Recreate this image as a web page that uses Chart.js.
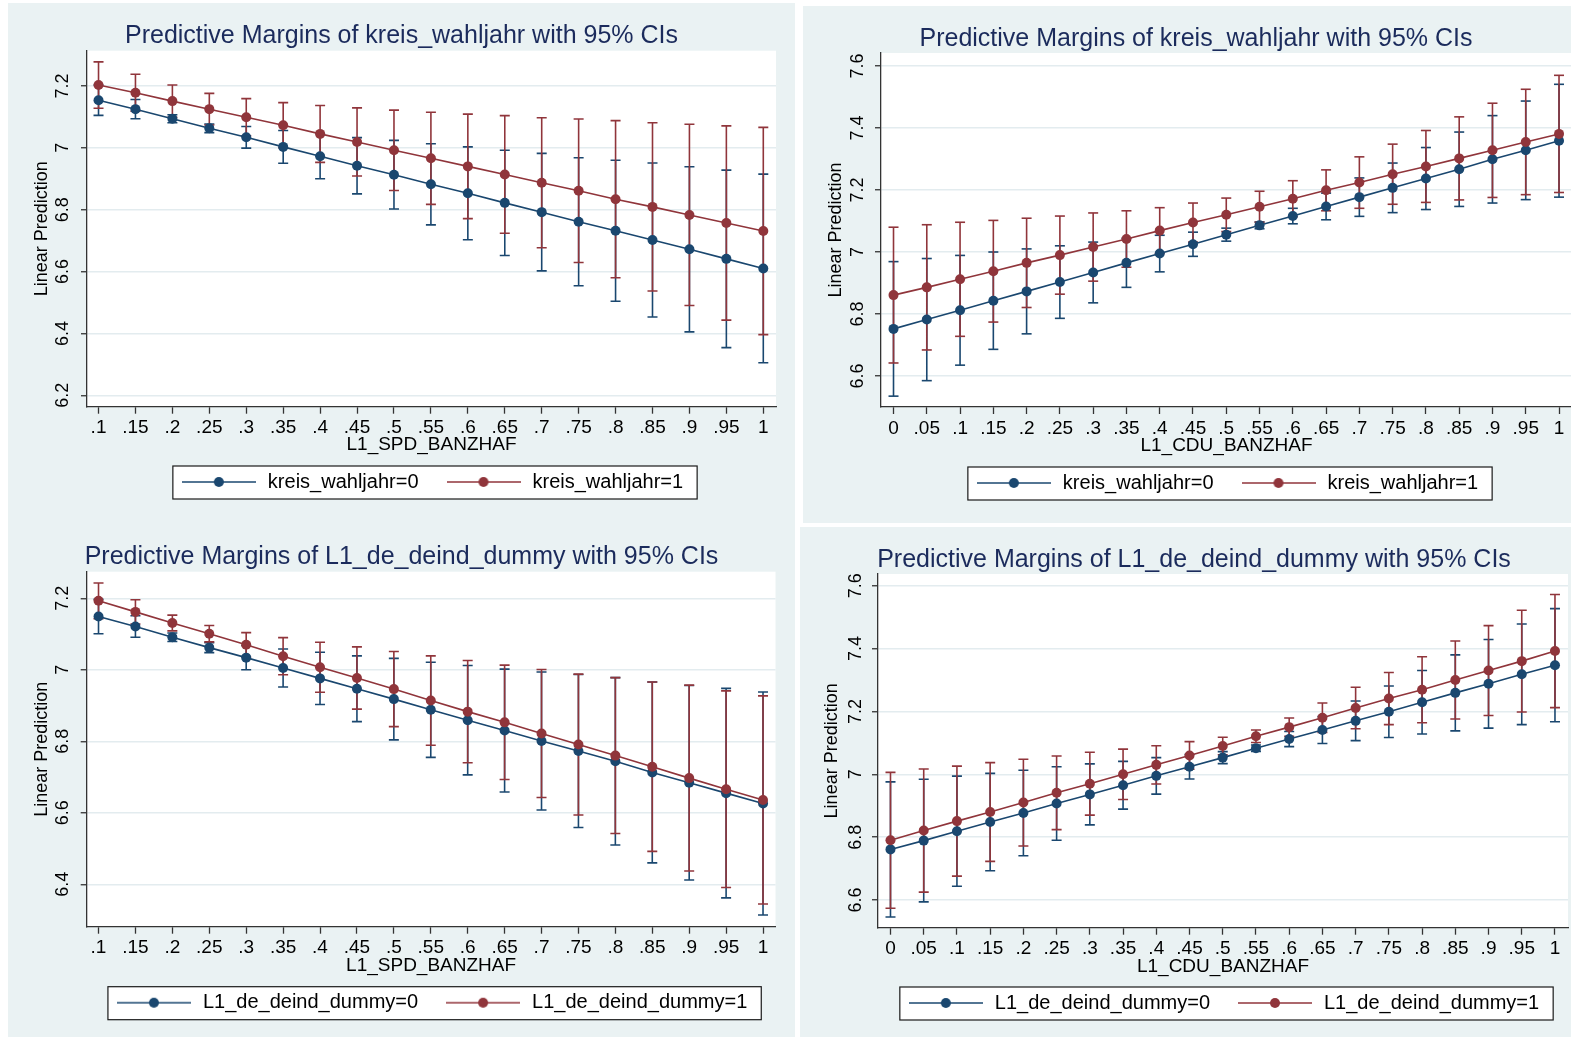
<!DOCTYPE html>
<html>
<head>
<meta charset="utf-8">
<title>Predictive Margins</title>
<script src="https://cdn.jsdelivr.net/npm/chart.js@4.4.1/dist/chart.umd.min.js"></script>
<style>
  html, body { margin: 0; padding: 0; background: #ffffff; overflow: hidden; width: 1571px; height: 1039px; }
  canvas { position: absolute; background: #eaf2f3; }
</style>
</head>
<body>
<canvas id="spdYear" width="787" height="520" style="left:8px;top:3px"></canvas>
<canvas id="cduYear" width="786" height="517" style="left:803px;top:6px"></canvas>
<canvas id="spdDeind" width="787" height="514" style="left:8px;top:523px"></canvas>
<canvas id="cduDeind" width="788" height="510" style="left:800px;top:527px"></canvas>
<script>
// ---- x values and their tick labels ----
const spdShares = [0.1, 0.15, 0.2, 0.25, 0.3, 0.35, 0.4, 0.45, 0.5, 0.55, 0.6, 0.65, 0.7, 0.75, 0.8, 0.85, 0.9, 0.95, 1];
const spdTickLabels = ['.1', '.15', '.2', '.25', '.3', '.35', '.4', '.45', '.5', '.55', '.6', '.65', '.7', '.75', '.8', '.85', '.9', '.95', '1'];
const cduShares = [0, 0.05, 0.1, 0.15, 0.2, 0.25, 0.3, 0.35, 0.4, 0.45, 0.5, 0.55, 0.6, 0.65, 0.7, 0.75, 0.8, 0.85, 0.9, 0.95, 1];
const cduTickLabels = ['0', '.05', '.1', '.15', '.2', '.25', '.3', '.35', '.4', '.45', '.5', '.55', '.6', '.65', '.7', '.75', '.8', '.85', '.9', '.95', '1'];

// ---- y tick values ----
const yTicksSpdYear = [6.2, 6.4, 6.6, 6.8, 7, 7.2];
const yTicksCdu = [6.6, 6.8, 7, 7.2, 7.4, 7.6];
const yTicksSpdDeind = [6.4, 6.6, 6.8, 7, 7.2];

// ---- kreis_wahljahr by L1_SPD_BANZHAF ----
const spdYear0 = [7.154, 7.125, 7.094, 7.063, 7.034, 7.003, 6.973, 6.942, 6.913, 6.882, 6.853, 6.822, 6.792, 6.761, 6.732, 6.702, 6.672, 6.641, 6.610];
const spdYear0Lo = [7.105, 7.094, 7.081, 7.049, 6.999, 6.950, 6.900, 6.851, 6.802, 6.751, 6.703, 6.652, 6.602, 6.554, 6.504, 6.453, 6.405, 6.354, 6.305];
const spdYear0Hi = [7.203, 7.156, 7.107, 7.077, 7.069, 7.056, 7.046, 7.033, 7.024, 7.013, 7.003, 6.992, 6.982, 6.968, 6.960, 6.951, 6.939, 6.928, 6.915];
const spdYear1 = [7.203, 7.178, 7.151, 7.125, 7.099, 7.073, 7.045, 7.019, 6.992, 6.966, 6.940, 6.914, 6.887, 6.861, 6.834, 6.809, 6.783, 6.757, 6.731];
const spdYear1Lo = [7.128, 7.118, 7.099, 7.074, 7.039, 7.000, 6.953, 6.909, 6.862, 6.817, 6.771, 6.724, 6.677, 6.629, 6.580, 6.537, 6.490, 6.443, 6.396];
const spdYear1Hi = [7.278, 7.238, 7.203, 7.176, 7.159, 7.146, 7.137, 7.129, 7.122, 7.115, 7.109, 7.104, 7.097, 7.093, 7.088, 7.081, 7.076, 7.071, 7.066];

// ---- kreis_wahljahr by L1_CDU_BANZHAF ----
const cduYear0 = [6.752, 6.782, 6.812, 6.843, 6.873, 6.903, 6.934, 6.965, 6.995, 7.025, 7.056, 7.086, 7.116, 7.147, 7.177, 7.207, 7.237, 7.267, 7.299, 7.328, 7.359];
const cduYear0Lo = [6.535, 6.585, 6.635, 6.686, 6.736, 6.786, 6.836, 6.886, 6.936, 6.986, 7.035, 7.075, 7.091, 7.104, 7.115, 7.127, 7.137, 7.147, 7.158, 7.169, 7.177];
const cduYear0Hi = [6.969, 6.979, 6.989, 7.000, 7.010, 7.020, 7.032, 7.044, 7.054, 7.064, 7.077, 7.097, 7.141, 7.190, 7.239, 7.287, 7.337, 7.387, 7.440, 7.487, 7.541];
const cduYear1 = [6.861, 6.886, 6.912, 6.938, 6.965, 6.990, 7.016, 7.042, 7.069, 7.095, 7.120, 7.146, 7.172, 7.199, 7.224, 7.251, 7.276, 7.302, 7.328, 7.355, 7.381];
const cduYear1Lo = [6.642, 6.684, 6.728, 6.774, 6.821, 6.864, 6.906, 6.951, 6.995, 7.032, 7.066, 7.096, 7.114, 7.133, 7.141, 7.154, 7.160, 7.168, 7.176, 7.185, 7.192];
const cduYear1Hi = [7.080, 7.088, 7.096, 7.102, 7.109, 7.116, 7.126, 7.133, 7.143, 7.158, 7.174, 7.196, 7.230, 7.265, 7.307, 7.348, 7.392, 7.436, 7.480, 7.525, 7.570];

// ---- L1_de_deind_dummy by L1_SPD_BANZHAF ----
const spdDeind0 = [7.149, 7.121, 7.091, 7.062, 7.034, 7.005, 6.976, 6.947, 6.918, 6.888, 6.859, 6.830, 6.801, 6.773, 6.744, 6.713, 6.684, 6.655, 6.626];
const spdDeind0Lo = [7.101, 7.091, 7.079, 7.048, 7.000, 6.952, 6.903, 6.855, 6.804, 6.755, 6.706, 6.658, 6.608, 6.559, 6.510, 6.460, 6.412, 6.362, 6.314];
const spdDeind0Hi = [7.197, 7.151, 7.103, 7.076, 7.068, 7.058, 7.049, 7.039, 7.032, 7.021, 7.012, 7.002, 6.994, 6.987, 6.978, 6.966, 6.956, 6.948, 6.938];
const spdDeind1 = [7.193, 7.162, 7.131, 7.101, 7.070, 7.038, 7.007, 6.977, 6.946, 6.914, 6.883, 6.853, 6.822, 6.791, 6.760, 6.729, 6.697, 6.666, 6.636];
const spdDeind1Lo = [7.143, 7.128, 7.109, 7.078, 7.036, 6.986, 6.937, 6.890, 6.841, 6.789, 6.740, 6.693, 6.643, 6.594, 6.542, 6.492, 6.437, 6.391, 6.345];
const spdDeind1Hi = [7.243, 7.196, 7.153, 7.124, 7.104, 7.090, 7.077, 7.064, 7.051, 7.039, 7.026, 7.013, 7.001, 6.988, 6.978, 6.966, 6.957, 6.941, 6.927];

// ---- L1_de_deind_dummy by L1_CDU_BANZHAF ----
const cduDeind0 = [6.761, 6.789, 6.819, 6.848, 6.877, 6.907, 6.936, 6.965, 6.995, 7.024, 7.053, 7.083, 7.112, 7.141, 7.170, 7.199, 7.229, 7.259, 7.288, 7.318, 7.347];
const cduDeind0Lo = [6.546, 6.594, 6.644, 6.693, 6.741, 6.790, 6.839, 6.889, 6.937, 6.985, 7.034, 7.073, 7.088, 7.098, 7.107, 7.117, 7.128, 7.138, 7.147, 7.158, 7.167];
const cduDeind0Hi = [6.976, 6.984, 6.994, 7.003, 7.013, 7.024, 7.033, 7.041, 7.053, 7.063, 7.072, 7.093, 7.136, 7.184, 7.233, 7.281, 7.330, 7.380, 7.429, 7.478, 7.527];
const cduDeind1 = [6.790, 6.821, 6.851, 6.880, 6.910, 6.941, 6.970, 7.000, 7.030, 7.060, 7.090, 7.121, 7.150, 7.180, 7.211, 7.241, 7.269, 7.300, 7.330, 7.360, 7.392];
const cduDeind1Lo = [6.574, 6.625, 6.676, 6.723, 6.772, 6.824, 6.870, 6.920, 6.969, 7.016, 7.062, 7.101, 7.121, 7.133, 7.145, 7.158, 7.164, 7.176, 7.187, 7.198, 7.212];
const cduDeind1Hi = [7.006, 7.017, 7.026, 7.037, 7.048, 7.058, 7.070, 7.080, 7.091, 7.104, 7.118, 7.141, 7.179, 7.227, 7.277, 7.324, 7.374, 7.424, 7.473, 7.522, 7.572];

// ---- styling ----
const NAVY = '#1a476f';
const MAROON = '#90353b';
const TITLE_COLOR = '#1b2b5c';
const AXIS_COLOR = '#333333';
const GRID_COLOR = '#e3ecef';

Chart.defaults.font.family = "'Liberation Sans', Arial, Helvetica, sans-serif";
Chart.defaults.color = '#000000';

// Legend key: a short line with a marker in the middle
function legendKey(color) {
  const c = document.createElement('canvas');
  c.width = 74; c.height = 12;
  const g = c.getContext('2d');
  g.strokeStyle = color; g.lineWidth = 1.6;
  g.beginPath(); g.moveTo(0, 6); g.lineTo(74, 6); g.stroke();
  g.fillStyle = color;
  g.beginPath(); g.arc(37, 6, 5, 0, Math.PI * 2); g.fill();
  return c;
}
const legendKeys = [legendKey(NAVY), legendKey(MAROON)];

// White plot region and framed white legend box
const panelDecor = {
  id: 'panelDecor',
  beforeDraw(chart) {
    const { ctx, chartArea: a } = chart;
    ctx.save();
    ctx.fillStyle = '#ffffff';
    ctx.fillRect(a.left, a.top, a.right - a.left, a.bottom - a.top);
    const hb = chart.legend && chart.legend.legendHitBoxes;
    if (hb && hb.length) {
      const first = hb[0], last = hb[hb.length - 1];
      const x0 = first.left - 7, x1 = last.left + last.width + 14;
      const y0 = first.top - 6, y1 = first.top + first.height + 7;
      ctx.fillRect(x0, y0, x1 - x0, y1 - y0);
      ctx.strokeStyle = '#1a1a1a';
      ctx.lineWidth = 1.2;
      ctx.strokeRect(x0, y0, x1 - x0, y1 - y0);
    }
    ctx.restore();
  }
};

function marginsChart(canvasId, p) {
  const points = ys => p.x.map((x, i) => ({ x, y: ys[i] }));
  const whiskers = (lo, hi) => p.x.flatMap((x, i) => [{ x, y: lo[i] }, { x, y: hi[i] }, { x, y: null }]);
  const lineSet = (label, ys, color, order) => ({
    label, data: points(ys), order,
    borderColor: color, backgroundColor: color, borderWidth: 1.6,
    pointRadius: 5, pointBorderWidth: 0, pointBackgroundColor: color, tension: 0
  });
  const ciSet = (label, lo, hi, color, order) => ({
    label, data: whiskers(lo, hi), order,
    borderColor: color, backgroundColor: color, borderWidth: 1.6, spanGaps: false,
    pointStyle: 'line', pointRadius: 5, pointBorderWidth: 1.6, pointBorderColor: color
  });

  return new Chart(document.getElementById(canvasId), {
    type: 'line',
    data: {
      datasets: [
        lineSet(p.labels[0], p.m0, NAVY, 2),
        lineSet(p.labels[1], p.m1, MAROON, 1),
        ciSet('ci0', p.lo0, p.hi0, NAVY, 4),
        ciSet('ci1', p.lo1, p.hi1, MAROON, 3)
      ]
    },
    options: {
      responsive: false,
      animation: false,
      events: [],
      layout: { padding: { left: p.side, right: p.side, top: 0, bottom: p.padBottom } },
      plugins: {
        tooltip: { enabled: false },
        title: {
          display: true, text: p.title, color: TITLE_COLOR,
          font: { size: 25, weight: 'normal' },
          padding: { top: p.titleTop, bottom: p.titleBottom }
        },
        legend: {
          display: true, position: 'bottom', fullSize: false,
          labels: {
            usePointStyle: true, pointStyleWidth: 78, padding: 26,
            font: { size: 20 }, color: '#000000',
            sort: (a, b) => a.datasetIndex - b.datasetIndex,
            generateLabels(chart) {
              return Chart.defaults.plugins.legend.labels.generateLabels(chart)
                .filter(it => it.datasetIndex < 2)
                .map(it => Object.assign(it, { pointStyle: legendKeys[it.datasetIndex] }));
            }
          }
        }
      },
      scales: {
        x: {
          type: 'linear', min: p.xMin, max: p.xMax, offset: false,
          afterBuildTicks: ax => { ax.ticks = p.x.map(v => ({ value: v })); },
          afterFit: ax => { ax.height = p.xAxisHeight; },
          ticks: {
            autoSkip: false, minRotation: 0, maxRotation: 0, padding: 3,
            font: { size: 19 }, color: '#000000',
            callback: (v, i) => p.xLabels[i]
          },
          grid: { drawOnChartArea: false, drawTicks: true, tickLength: 7, tickColor: AXIS_COLOR, tickWidth: 1.3 },
          border: { display: true, color: AXIS_COLOR, width: 1.3 },
          title: {
            display: true, text: p.xTitle, color: '#000000',
            font: { size: 19, weight: 'normal' },
            padding: { top: 0, bottom: p.xTitlePad }
          }
        },
        y: {
          type: 'linear', min: p.yMin, max: p.yMax,
          afterBuildTicks: ax => { ax.ticks = p.yTicks.map(v => ({ value: v })); },
          afterFit: ax => { ax.width = p.yAxisWidth; },
          ticks: {
            autoSkip: false, minRotation: 90, maxRotation: 90, crossAlign: 'center',
            padding: p.yTickPad, font: { size: 18 }, color: '#000000',
            callback: v => String(Number(v.toFixed(1)))
          },
          grid: { color: GRID_COLOR, lineWidth: 1.5, drawTicks: true, tickLength: 6, tickColor: AXIS_COLOR, tickWidth: 1.3 },
          border: { display: true, color: AXIS_COLOR, width: 1.3 },
          title: {
            display: true, text: 'Linear Prediction', color: '#000000',
            font: { size: 18, weight: 'normal' },
            padding: { top: p.yTitlePad, bottom: 0 }
          }
        }
      }
    },
    plugins: [panelDecor]
  });
}

marginsChart('spdYear', {
  title: 'Predictive Margins of kreis_wahljahr with 95% CIs',
  labels: ['kreis_wahljahr=0', 'kreis_wahljahr=1'],
  xTitle: 'L1_SPD_BANZHAF',
  x: spdShares, xLabels: spdTickLabels, yTicks: yTicksSpdYear,
  m0: spdYear0, lo0: spdYear0Lo, hi0: spdYear0Hi,
  m1: spdYear1, lo1: spdYear1Lo, hi1: spdYear1Hi,
  xMin: 0.0844, xMax: 1.0172, yMin: 6.163, yMax: 7.314,
  side: 19, yAxisWidth: 60, yTitlePad: 4.2, yTickPad: 5.5,
  titleTop: 18.5, titleBottom: -0.8, xAxisHeight: 39.3, padBottom: 21, xTitlePad: -10.4
});

marginsChart('cduYear', {
  title: 'Predictive Margins of kreis_wahljahr with 95% CIs',
  labels: ['kreis_wahljahr=0', 'kreis_wahljahr=1'],
  xTitle: 'L1_CDU_BANZHAF',
  x: cduShares, xLabels: cduTickLabels, yTicks: yTicksCdu,
  m0: cduYear0, lo0: cduYear0Lo, hi0: cduYear0Hi,
  m1: cduYear1, lo1: cduYear1Lo, hi1: cduYear1Hi,
  xMin: -0.0188, xMax: 1.0195, yMin: 6.5, yMax: 7.642,
  side: 17, yAxisWidth: 61, yTitlePad: 5.7, yTickPad: 4,
  titleTop: 18, titleBottom: -1, xAxisHeight: 40, padBottom: 20, xTitlePad: -10.4
});

marginsChart('spdDeind', {
  title: 'Predictive Margins of L1_de_deind_dummy with 95% CIs',
  labels: ['L1_de_deind_dummy=0', 'L1_de_deind_dummy=1'],
  xTitle: 'L1_SPD_BANZHAF',
  x: spdShares, xLabels: spdTickLabels, yTicks: yTicksSpdDeind,
  m0: spdDeind0, lo0: spdDeind0Lo, hi0: spdDeind0Hi,
  m1: spdDeind1, lo1: spdDeind1Lo, hi1: spdDeind1Hi,
  xMin: 0.084, xMax: 1.0169, yMin: 6.2814, yMax: 7.2744,
  side: 19.5, yAxisWidth: 59.2, yTitlePad: 3.7, yTickPad: 5.2,
  titleTop: 19.5, titleBottom: -0.8, xAxisHeight: 40, padBottom: 14.3, xTitlePad: -10.7
});

marginsChart('cduDeind', {
  title: 'Predictive Margins of L1_de_deind_dummy with 95% CIs',
  labels: ['L1_de_deind_dummy=0', 'L1_de_deind_dummy=1'],
  xTitle: 'L1_CDU_BANZHAF',
  x: cduShares, xLabels: cduTickLabels, yTicks: yTicksCdu,
  m0: cduDeind0, lo0: cduDeind0Lo, hi0: cduDeind0Hi,
  m1: cduDeind1, lo1: cduDeind1Lo, hi1: cduDeind1Hi,
  xMin: -0.0188, xMax: 1.0196, yMin: 6.5119, yMax: 7.6372,
  side: 20, yAxisWidth: 58, yTitlePad: 1.2, yTickPad: 3.5,
  titleTop: 18.5, titleBottom: -1.5, xAxisHeight: 39.3, padBottom: 14, xTitlePad: -11.4
});
</script>
</body>
</html>
